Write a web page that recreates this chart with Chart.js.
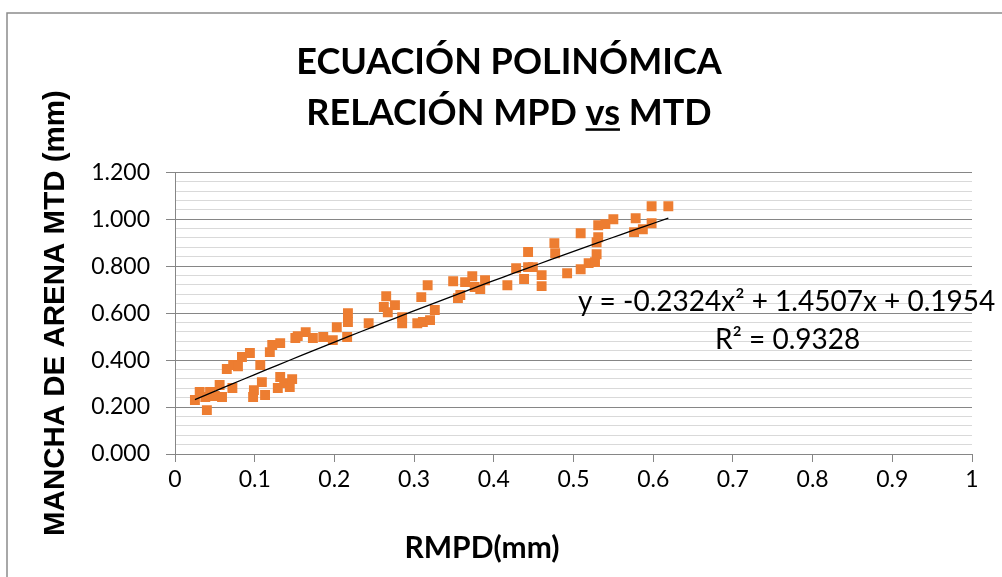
<!DOCTYPE html>
<html lang="es">
<head>
<meta charset="UTF-8">
<title>Ecuación polinómica - relación MPD vs MTD</title>
<script src="https://cdn.jsdelivr.net/npm/chart.js"></script>
<style>
    body { margin: 0; background: #fff; }
</style>
</head>
<body>
<canvas id="mpdChart" width="1002" height="577"></canvas>
<script>
// RMPD (mm) measured vs sand patch MTD (mm)
const rmpd = [
    0.025, 0.031, 0.040, 0.038, 0.044, 0.050, 0.056, 0.059, 0.065, 0.072,
    0.073, 0.079, 0.084, 0.094, 0.098, 0.099, 0.107, 0.109, 0.113, 0.119,
    0.122, 0.129, 0.132, 0.132, 0.137, 0.144, 0.147, 0.151, 0.154, 0.164,
    0.173, 0.186, 0.198, 0.203, 0.216, 0.217, 0.217, 0.243, 0.262, 0.265,
    0.267, 0.276, 0.285, 0.285, 0.304, 0.309, 0.311, 0.320, 0.317, 0.326,
    0.349, 0.355, 0.358, 0.364, 0.373, 0.376, 0.383, 0.389, 0.417, 0.428,
    0.438, 0.443, 0.443, 0.449, 0.460, 0.460, 0.476, 0.477, 0.492, 0.509,
    0.509, 0.519, 0.527, 0.529, 0.529, 0.531, 0.531, 0.540, 0.550, 0.576,
    0.578, 0.587, 0.598, 0.598, 0.619
];
const mtd = [
    0.230, 0.264, 0.187, 0.243, 0.264, 0.247, 0.294, 0.243, 0.362, 0.281,
    0.379, 0.374, 0.413, 0.430, 0.243, 0.272, 0.379, 0.306, 0.251, 0.434,
    0.464, 0.281, 0.328, 0.472, 0.302, 0.285, 0.319, 0.494, 0.502, 0.519,
    0.494, 0.498, 0.485, 0.540, 0.498, 0.600, 0.562, 0.557, 0.626, 0.672,
    0.604, 0.634, 0.583, 0.557, 0.557, 0.668, 0.562, 0.570, 0.719, 0.613,
    0.736, 0.664, 0.677, 0.732, 0.757, 0.711, 0.702, 0.740, 0.719, 0.791,
    0.745, 0.860, 0.796, 0.796, 0.762, 0.715, 0.898, 0.855, 0.770, 0.940,
    0.787, 0.813, 0.817, 0.851, 0.902, 0.923, 0.974, 0.979, 1.000, 0.945,
    1.004, 0.957, 0.983, 1.055, 1.055
];

// polynomial trend (2nd order): y = a x^2 + b x + c
const fitA = -0.2324;
const fitB = 1.4507;
const fitC = 0.1954;
const fitR2 = 0.9328;

const titleLines = ['ECUACIÓN POLINÓMICA', 'RELACIÓN MPD vs MTD'];
const yMajor = [0, 0.2, 0.4, 0.6, 0.8, 1.0, 1.2];

const isMajor = v => yMajor.some(m => Math.abs(m - v) < 1e-6);

// trend curve over the measured range
const xMin = Math.min(...rmpd), xMax = Math.max(...rmpd);
const trend = [];
for (let i = 0; i <= 40; i++) {
    const x = xMin + (xMax - xMin) * i / 40;
    trend.push({ x: x, y: fitA * x * x + fitB * x + fitC });
}

const points = rmpd.map((x, i) => ({ x: x, y: mtd[i] }));

const TITLE_SIZE = 36;
const TITLE_LH = 1.42;
const TITLE_PAD = { top: 36.5, bottom: 33.5 };

// white background + outer chart border
const frame = {
    id: 'frame',
    beforeDraw(chart) {
        const ctx = chart.ctx;
        ctx.save();
        ctx.fillStyle = '#fff';
        ctx.fillRect(0, 0, chart.width, chart.height);
        ctx.strokeStyle = '#8c8c8c';
        ctx.lineWidth = 1.5;
        ctx.beginPath();
        ctx.moveTo(7, chart.height);
        ctx.lineTo(7, 13);
        ctx.lineTo(chart.width, 13);
        ctx.stroke();
        ctx.restore();
    }
};

// underline on "vs", x axis caption and the trend equation
const notes = {
    id: 'notes',
    afterDraw(chart) {
        const ctx = chart.ctx;
        const tb = chart.titleBlock;
        ctx.save();

        ctx.font = 'bold ' + TITLE_SIZE + 'px Lato';
        const cx = (tb.left + tb.right) / 2;
        const lh = TITLE_SIZE * TITLE_LH;
        const y2 = tb.top + TITLE_PAD.top + lh * 1.5;
        const full = ctx.measureText(titleLines[1]).width;
        const pre = ctx.measureText('RELACIÓN MPD ').width;
        const vs = ctx.measureText('vs').width;
        ctx.fillStyle = '#000';
        ctx.fillRect(cx - full / 2 + pre, y2 + TITLE_SIZE * 0.42, vs, 2.5);

        ctx.font = 'bold 30px Lato';
        ctx.textAlign = 'center';
        ctx.textBaseline = 'middle';
        ctx.fillText('RMPD(mm)', 482, 548);

        const eq = 'y = ' + fitA.toFixed(4) + 'x² + ' + fitB.toFixed(4) + 'x + ' + fitC.toFixed(4);
        ctx.font = '28px Lato';
        ctx.textAlign = 'left';
        ctx.fillText(eq, 578, 302);
        ctx.fillText('R² = ' + fitR2.toFixed(4), 715, 340);
        ctx.restore();
    }
};

const ctx = document.getElementById('mpdChart').getContext('2d');
new Chart(ctx, {
    type: 'scatter',
    data: {
        datasets: [{
            label: 'Polinómica',
            data: trend,
            showLine: true,
            borderColor: '#000',
            borderWidth: 1.3,
            pointRadius: 0,
            fill: false
        }, {
            label: 'MTD',
            data: points,
            pointStyle: 'rect',
            pointRadius: 7,
            pointBackgroundColor: '#ed7d31',
            pointBorderWidth: 0
        }]
    },
    options: {
        responsive: false,
        animation: false,
        devicePixelRatio: 1,
        layout: { padding: { left: 46, right: 30, top: 0, bottom: 0 } },
        plugins: {
            legend: { display: false },
            tooltip: { enabled: false },
            title: {
                display: true,
                text: titleLines,
                color: '#000',
                font: { family: 'Lato', weight: 'bold', size: TITLE_SIZE, lineHeight: TITLE_LH },
                padding: TITLE_PAD
            }
        },
        scales: {
            x: {
                type: 'linear',
                min: 0,
                max: 1,
                ticks: {
                    stepSize: 0.1,
                    color: '#000',
                    padding: 4,
                    font: { family: 'Lato', size: 23 },
                    callback: v => String(+v.toFixed(1))
                },
                grid: { drawOnChartArea: false, tickLength: 8, tickColor: '#868686' },
                border: { color: '#868686' },
                afterFit(scale) { scale.height = 123; }
            },
            y: {
                min: 0,
                max: 1.2,
                ticks: {
                    stepSize: 0.04,
                    autoSkip: false,
                    color: '#000',
                    padding: 16,
                    font: { family: 'Lato', size: 23 },
                    callback: v => isMajor(v) ? v.toFixed(3) : ''
                },
                grid: {
                    color: c => (c.tick && isMajor(c.tick.value)) ? '#868686' : '#d9d9d9',
                    tickColor: c => (c.tick && isMajor(c.tick.value)) ? '#868686' : 'rgba(0,0,0,0)',
                    tickLength: 9
                },
                border: { color: '#868686' },
                title: {
                    display: true,
                    text: 'MANCHA DE ARENA MTD (mm)',
                    color: '#000',
                    font: { family: 'Liberation Sans', weight: 'bold', size: 29.5, lineHeight: 1.2 },
                    padding: { top: -8, bottom: 0 }
                },
                afterFit(scale) { scale.width = 129; }
            }
        }
    },
    plugins: [frame, notes]
});
</script>
</body>
</html>
